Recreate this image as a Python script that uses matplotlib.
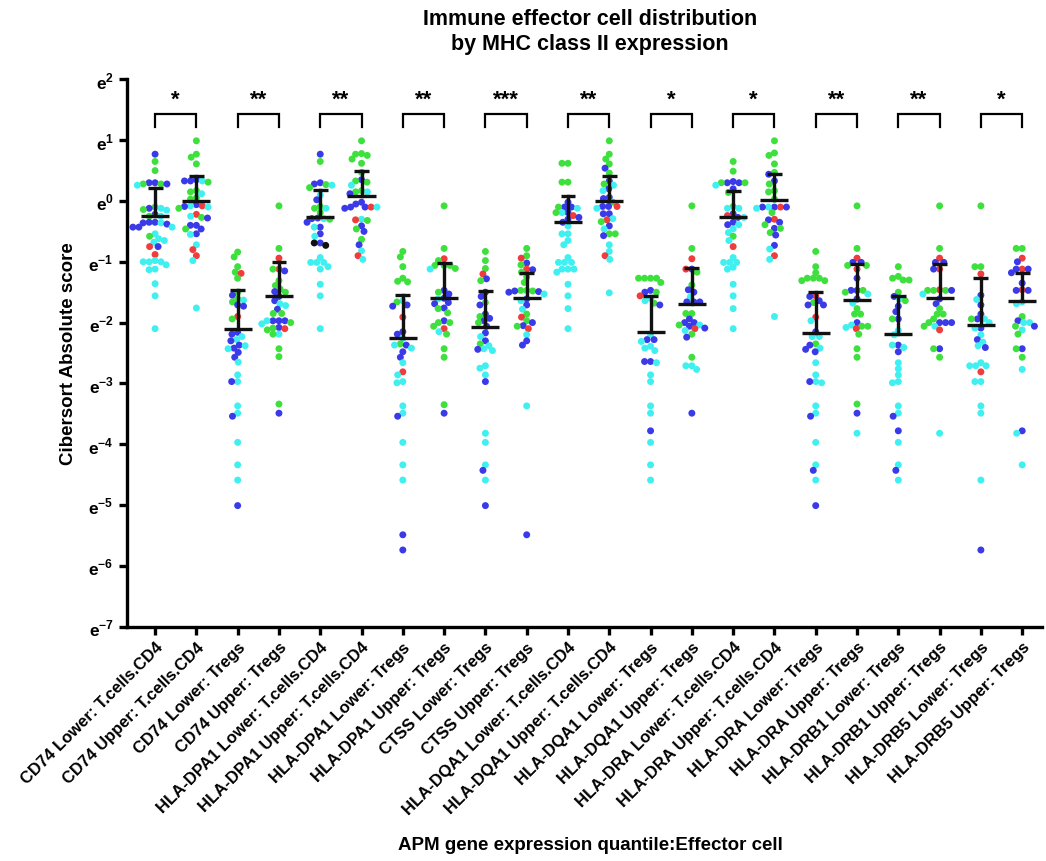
import numpy as np
import matplotlib
matplotlib.use("Agg")
import matplotlib.pyplot as plt

plt.rcParams["font.family"] = ["Liberation Sans", "DejaVu Sans"]
plt.rcParams["mathtext.fontset"] = "custom"
plt.rcParams["mathtext.rm"] = "Liberation Sans"
plt.rcParams["mathtext.bf"] = "Liberation Sans:bold"

# group labels, in plotting order
groups = [
    "CD74 Lower: T.cells.CD4", "CD74 Upper: T.cells.CD4",
    "CD74 Lower: Tregs", "CD74 Upper: Tregs",
    "HLA-DPA1 Lower: T.cells.CD4", "HLA-DPA1 Upper: T.cells.CD4",
    "HLA-DPA1 Lower: Tregs", "HLA-DPA1 Upper: Tregs",
    "CTSS Lower: Tregs", "CTSS Upper: Tregs",
    "HLA-DQA1 Lower: T.cells.CD4", "HLA-DQA1 Upper: T.cells.CD4",
    "HLA-DQA1 Lower: Tregs", "HLA-DQA1 Upper: Tregs",
    "HLA-DRA Lower: T.cells.CD4", "HLA-DRA Upper: T.cells.CD4",
    "HLA-DRA Lower: Tregs", "HLA-DRA Upper: Tregs",
    "HLA-DRB1 Lower: Tregs", "HLA-DRB1 Upper: Tregs",
    "HLA-DRB5 Lower: Tregs", "HLA-DRB5 Upper: Tregs",
]

# ln(score) per sample; letters give the cohort colour of each sample
cd74_lo_cd4 = [0.77, 0.65, 0.50, 0.30, 0.30, 0.28, 0.28, 0.28, 0.26, -0.10, -0.12, -0.12, -0.14, -0.15,
               -0.22, -0.25, -0.25, -0.35, -0.35, -0.36, -0.36, -0.38, -0.43, -0.43, -0.43, -0.54, -0.58,
               -0.62, -0.65, -0.68, -0.75, -0.75, -0.88, -0.98, -1.00, -1.00, -1.00, -1.05, -1.12, -1.13,
               -1.36, -1.56, -2.10]
cd74_lo_cd4_c = "bgg bbggbc gbcgc bgc bbcbb bcb cgccc br r cccc c cc ccc"

cd74_up_cd4 = [0.99, 0.77, 0.72, 0.61, 0.35, 0.33, 0.33, 0.31, 0.33, 0.17, 0.15, 0.12, 0.05, 0.03,
               -0.06, -0.08, -0.08, -0.09, -0.10, -0.12, -0.22, -0.25, -0.27, -0.28, -0.40, -0.40,
               -0.46, -0.46, -0.54, -0.55, -0.72, -0.80, -0.90, -0.98, -1.76]
cd74_up_cd4_c = "gggg bbcgb ggc gg bcrbcg rcgb bb bg bc c r r c c"

cd74_lo_treg = [-0.84, -0.92, -1.08, -1.17, -1.19, -1.27, -1.50, -1.55, -1.61, -1.63, -1.66, -1.71, -1.73,
                -1.90, -1.94, -2.16, -2.19, -2.23, -2.28, -2.30, -2.37, -2.38, -2.42, -2.43, -2.49, -2.57,
                -2.65, -2.86, -2.97, -2.97, -3.37, -3.49, -3.54, -3.97, -4.34, -4.59, -5.01]
cd74_lo_treg_c = "ggggrg gbgcgbb rg bbccbbcbcbbc ccb ccb cccb"

cd74_up_treg = [-0.08, -0.78, -0.94, -1.12, -1.12, -1.15, -1.31, -1.39, -1.45, -1.49, -1.50, -1.57,
                -1.64, -1.69, -1.72, -1.78, -1.85, -1.85, -1.97, -1.97, -1.97, -1.97, -2.00, -2.02, -2.08,
                -2.09, -2.10, -2.12, -2.19, -2.19, -2.43, -2.56, -3.34, -3.49]
cd74_up_treg_c = "gg rrgb gggbgb bccbgg bbbcgcbgrgcg gg gb"

dpa1_lo_cd4 = [0.77, 0.65, 0.30, 0.28, 0.27, 0.26, 0.22, 0.10, 0.02, -0.09, -0.12, -0.12, -0.19,
               -0.28, -0.29, -0.29, -0.30, -0.35, -0.43, -0.43, -0.54, -0.58, -0.69, -0.69, -0.73,
               -0.93, -1.01, -1.01, -1.01, -1.08, -1.12, -1.37, -1.56, -2.10]
dpa1_lo_cd4_c = "bg bbgcg cb ggcg bcbgb bcbc bkk cccccc ccc"

dpa1_up_cd4 = [0.99, 0.78, 0.77, 0.75, 0.69, 0.62, 0.47, 0.35, 0.33, 0.31, 0.26, 0.17, 0.15, 0.15, 0.12,
               -0.02, -0.05, -0.10, -0.10, -0.10, -0.10, -0.12, -0.30, -0.31, -0.32, -0.41, -0.46, -0.50,
               -0.63, -0.72, -0.82, -0.90, -0.96]
dpa1_up_cd4_c = "ggggggg bggc ggcb bbbrbcb crgbgb gbcrc"

dpa1_lo_treg = [-0.83, -0.92, -1.08, -1.27, -1.32, -1.33, -1.64, -1.66, -1.71, -1.73, -1.91, -2.15, -2.19,
                -2.26, -2.35, -2.37, -2.37, -2.42, -2.48, -2.57, -2.66, -2.81, -2.86, -2.97, -2.99, -3.37,
                -3.49, -3.54, -3.97, -4.34, -4.59, -5.49, -5.74]
dpa1_lo_treg_c = "gggggg cgbbr bbcgbccbbc rccc ccb ccc bb"

dpa1_up_treg = [-0.08, -0.78, -0.95, -0.98, -1.06, -1.06, -1.06, -1.11, -1.12, -1.47, -1.50, -1.53, -1.60,
                -1.61, -1.67, -1.69, -1.76, -1.77, -1.84, -1.97, -2.00, -2.00, -2.06, -2.10, -2.15, -2.19,
                -2.43, -2.57, -3.35, -3.49]
dpa1_up_treg_c = "gg rgggggc bgbbcbbbgg bgggrcg gg gb"

ctss_lo_treg = [-0.83, -0.98, -1.11, -1.20, -1.28, -1.31, -1.50, -1.57, -1.67, -1.71, -1.86, -1.90, -1.93,
                -1.97, -2.00, -2.06, -2.17, -2.23, -2.30, -2.35, -2.38, -2.43, -2.44, -2.46, -2.71, -2.75,
                -2.86, -2.97, -3.82, -3.97, -4.34, -4.43, -4.59, -5.01]
ctss_lo_treg_c = "gggrbg bbgb bgbbgb bcbgccbc cccb cccbcb"

ctss_up_treg = [-0.78, -0.90, -0.94, -1.02, -1.05, -1.12, -1.13, -1.17, -1.25, -1.34, -1.47, -1.47, -1.48,
                -1.48, -1.49, -1.50, -1.53, -1.61, -1.64, -1.71, -1.78, -1.86, -1.91, -1.97, -2.00, -2.05,
                -2.06, -2.10, -2.20, -2.30, -2.37, -3.37, -5.49]
ctss_up_treg_c = "ggrbg rbggg gggbbbc bcbc grgbbgr cbb cb"

dqa1_lo_cd4 = [0.62, 0.62, 0.31, 0.31, -0.02, -0.10, -0.10, -0.10, -0.12, -0.19, -0.19, -0.19, -0.24,
               -0.27, -0.30, -0.35, -0.41, -0.54, -0.54, -0.65, -0.72, -0.93, -1.01, -1.01, -1.01, -1.12,
               -1.12, -1.12, -1.17, -1.37, -1.56, -1.77, -2.10]
dqa1_lo_cd4_c = "gggg bbbgc bcgrbbb ccccc cccccccc cccc"

dqa1_up_cd4 = [0.99, 0.77, 0.69, 0.61, 0.54, 0.46, 0.33, 0.28, 0.26, 0.20, 0.17, 0.06, 0.04, -0.02,
               -0.09, -0.09, -0.09, -0.12, -0.21, -0.21, -0.29, -0.31, -0.34, -0.41, -0.46, -0.54, -0.54,
               -0.57, -0.72, -0.83, -0.90, -0.96, -1.51]
dqa1_up_cd4_c = "ggggbg bgcbc bbg bbrc bbcrg bcggb ccrcc"

dqa1_lo_treg = [-1.27, -1.27, -1.27, -1.27, -1.34, -1.47, -1.50, -1.50, -1.56, -1.60, -1.64, -1.68, -1.71,
                -2.20, -2.28, -2.28, -2.31, -2.39, -2.42, -2.46, -2.64, -2.64, -2.66, -2.86, -2.97, -3.37,
                -3.49, -3.78, -3.97, -4.34, -4.59]
dqa1_lo_treg_c = "ggggg bbgrccgb cbbcccc bbccc ccbccc"

dqa1_up_treg = [-0.08, -0.78, -0.95, -1.12, -1.12, -1.17, -1.38, -1.46, -1.50, -1.58, -1.66, -1.66, -1.66,
                -1.85, -1.85, -1.94, -2.00, -2.00, -2.04, -2.04, -2.06, -2.09, -2.10, -2.13, -2.19, -2.24,
                -2.57, -2.71, -2.71, -2.77, -3.49]
dqa1_up_treg_c = "ggr brgg bbcbbb ggbbb cgbbrcgb gcccb"

dra_lo_cd4 = [0.65, 0.49, 0.32, 0.30, 0.30, 0.30, 0.30, 0.26, 0.20, 0.14, -0.09, -0.12, -0.12, -0.21,
              -0.24, -0.27, -0.27, -0.35, -0.39, -0.39, -0.46, -0.52, -0.58, -0.65, -0.75, -0.93, -1.01,
              -1.01, -1.01, -1.09, -1.12, -1.37, -1.56, -1.77, -2.10]
dra_lo_cd4_c = "gg bbbggcbg gccbrbc bbcccgcr cccccc cccc"

dra_up_cd4 = [0.99, 0.79, 0.75, 0.61, 0.47, 0.44, 0.33, 0.28, 0.17, 0.15, 0.03, -0.10, -0.10, -0.10,
              -0.10, -0.10, -0.12, -0.19, -0.30, -0.31, -0.35, -0.39, -0.45, -0.45, -0.52, -0.56, -0.73,
              -0.79, -0.90, -0.96, -1.90]
dra_up_cd4_c = "ggggg bbgggg bcrbbcg rbbgbggb bcrcc"

dra_lo_treg = [-0.83, -1.08, -1.18, -1.27, -1.27, -1.27, -1.31, -1.31, -1.56, -1.57, -1.64, -1.67, -1.71,
               -1.71, -1.91, -1.97, -2.15, -2.23, -2.23, -2.35, -2.37, -2.42, -2.44, -2.48, -2.66, -2.86,
               -2.97, -2.97, -2.99, -3.37, -3.49, -3.54, -3.97, -4.34, -4.43, -4.59, -5.01]
dra_lo_treg_c = "gggggggg rbbgbb rc bccgbcbb cccbc ccb ccbcb"

dra_up_treg = [-0.08, -0.78, -0.94, -1.01, -1.01, -1.06, -1.06, -1.12, -1.27, -1.47, -1.47, -1.47, -1.50,
               -1.53, -1.61, -1.68, -1.77, -1.86, -1.86, -2.00, -2.04, -2.06, -2.06, -2.08, -2.10, -2.19,
               -2.43, -2.57, -3.34, -3.49, -3.82]
dra_up_treg_c = "gg rbbggrb bbggcbc ggg bcggcrg gggbc"

drb1_lo_treg = [-1.08, -1.24, -1.27, -1.30, -1.30, -1.50, -1.57, -1.61, -1.64, -1.73, -1.82, -1.94, -1.94,
                -2.13, -2.20, -2.37, -2.37, -2.41, -2.48, -2.66, -2.76, -2.86, -2.97, -2.99, -3.37, -3.49,
                -3.54, -3.78, -3.97, -4.34, -4.43, -4.59]
drb1_lo_treg_c = "ggggg gbcgbbbg ccbccb ccccc ccbb ccbc"

drb1_up_treg = [-0.08, -0.78, -0.94, -1.01, -1.01, -1.12, -1.12, -1.46, -1.47, -1.47, -1.47, -1.47, -1.53,
                -1.61, -1.69, -1.77, -1.86, -1.86, -1.94, -2.00, -2.00, -2.00, -2.00, -2.06, -2.06, -2.12,
                -2.43, -2.43, -2.57, -3.82]
drb1_up_treg_c = "gg rbbrb rgggbc bbgggg bbgbcgr bggc"

drb5_lo_treg = [-0.08, -1.08, -1.08, -1.20, -1.55, -1.62, -1.71, -1.86, -1.94, -1.94, -1.94, -2.00, -2.09,
                -2.09, -2.20, -2.28, -2.32, -2.38, -2.41, -2.66, -2.71, -2.71, -2.71, -2.81, -2.97, -2.97,
                -3.37, -3.49, -4.59, -5.74]
drb5_lo_treg_c = "gggr bcbb bcgcbc cbccb ccccrcc cccb"

drb5_up_treg = [-0.78, -0.78, -0.94, -1.00, -1.12, -1.12, -1.12, -1.18, -1.35, -1.46, -1.47, -1.47, -1.66,
                -1.69, -1.90, -1.97, -2.00, -2.00, -2.06, -2.06, -2.12, -2.19, -2.43, -2.43, -2.57, -2.77,
                -3.78, -3.82, -4.34]
drb5_up_treg_c = "ggrb rbbbb rbbcc gbccgbcg bggc bcc"

# centre line and upper whisker of each group, ln units
centre = [-0.25, 0.00, -2.11, -1.57, -0.27, 0.09, -2.26, -1.60, -2.07, -1.59, -0.34,
          0.00, -2.15, -1.70, -0.26, 0.02, -2.17, -1.63, -2.18, -1.60, -2.04, -1.64]
upper = [0.21, 0.41, -1.46, -1.01, 0.18, 0.49, -1.55, -1.02, -1.48, -1.18, 0.09,
         0.41, -1.57, -1.11, 0.16, 0.44, -1.50, -1.04, -1.57, -1.03, -1.26, -1.18]

stars = ["*", "**", "**", "**", "***", "**", "*", "*", "**", "**", "*"]

series = [
    (cd74_lo_cd4, cd74_lo_cd4_c), (cd74_up_cd4, cd74_up_cd4_c),
    (cd74_lo_treg, cd74_lo_treg_c), (cd74_up_treg, cd74_up_treg_c),
    (dpa1_lo_cd4, dpa1_lo_cd4_c), (dpa1_up_cd4, dpa1_up_cd4_c),
    (dpa1_lo_treg, dpa1_lo_treg_c), (dpa1_up_treg, dpa1_up_treg_c),
    (ctss_lo_treg, ctss_lo_treg_c), (ctss_up_treg, ctss_up_treg_c),
    (dqa1_lo_cd4, dqa1_lo_cd4_c), (dqa1_up_cd4, dqa1_up_cd4_c),
    (dqa1_lo_treg, dqa1_lo_treg_c), (dqa1_up_treg, dqa1_up_treg_c),
    (dra_lo_cd4, dra_lo_cd4_c), (dra_up_cd4, dra_up_cd4_c),
    (dra_lo_treg, dra_lo_treg_c), (dra_up_treg, dra_up_treg_c),
    (drb1_lo_treg, drb1_lo_treg_c), (drb1_up_treg, drb1_up_treg_c),
    (drb5_lo_treg, drb5_lo_treg_c), (drb5_up_treg, drb5_up_treg_c),
]

palette = {"g": "#3ee03e", "b": "#3a3ae8", "c": "#40f0f0", "r": "#f03c3c", "k": "#111111"}


def swarm(y_px, d):
    # simple beeswarm: place each point as close to the centre as it can go
    order = np.argsort(-y_px)
    xs = np.zeros(len(y_px))
    placed = []
    for i in order:
        y = y_px[i]
        near = [(xs[j], y - y_px[j]) for j in placed if abs(y - y_px[j]) < d]
        cands = [0.0]
        for xj, dy in near:
            w = np.sqrt(d * d - dy * dy)
            cands += [xj - w, xj + w]
        cands.sort(key=lambda c: (abs(c), c))
        for c in cands:
            if all((c - xj) ** 2 + dy ** 2 >= d * d - 1e-6 for xj, dy in near):
                xs[i] = c
                break
        placed.append(i)
    return xs


W, H = 1046, 862
fig = plt.figure(figsize=(W / 100, H / 100), dpi=100)
ax_l, ax_r, ax_t, ax_b = 127, 1042, 80.4, 627.6
ax = fig.add_axes([ax_l / W, 1 - ax_b / H, (ax_r - ax_l) / W, (ax_b - ax_t) / H])
ax.set_yscale("log", base=np.e)
xmin, xmax = -0.68, 21.48
ax.set_xlim(xmin, xmax)
ax.set_ylim(np.exp(-7), np.exp(2))

px_x = (ax_r - ax_l) / (xmax - xmin)
px_y = (ax_b - ax_t) / 9.0
dot = 6.0

for i, (vals, cols) in enumerate(series):
    cols = cols.replace(" ", "")
    assert len(cols) == len(vals), groups[i]
    v = np.array(vals)
    off = swarm(v * px_y, dot) / px_x
    ax.scatter(i + off, np.exp(v), s=25, c=[palette[c] for c in cols],
               linewidths=0, zorder=2)

# centre line with upper whisker
for i, (c, u) in enumerate(zip(centre, upper)):
    ax.plot([i - 0.34, i + 0.34], [np.exp(c)] * 2, color="#111111", lw=2.4, zorder=3,
            solid_capstyle="butt")
    ax.plot([i, i], [np.exp(c), np.exp(u)], color="#111111", lw=2.4, zorder=3)
    ax.plot([i - 0.18, i + 0.18], [np.exp(u)] * 2, color="#111111", lw=2.4, zorder=3,
            solid_capstyle="butt")

# significance brackets between Lower/Upper pairs
for k, s in enumerate(stars):
    a, b = 2 * k, 2 * k + 1
    ax.plot([a, a, b, b], np.exp([1.22, 1.43, 1.43, 1.22]), color="black", lw=1.6,
            solid_joinstyle="miter")
    ax.text((a + b) / 2, np.exp(1.68), s, ha="center", va="center", fontsize=16,
            fontweight="bold")

for side in ["top", "right"]:
    ax.spines[side].set_visible(False)
for side in ["left", "bottom"]:
    ax.spines[side].set_linewidth(2.4)

ax.set_xticks(range(len(groups)))
ax.set_xticklabels(groups, rotation=45, ha="right", rotation_mode="anchor",
                   fontsize=12, fontweight="bold")
yt = list(range(-7, 3))
ax.set_yticks([np.exp(t) for t in yt])
ax.set_yticklabels([r"$\mathbf{e}^{\mathbf{%d}}$" % t for t in yt], fontsize=12.5)
ax.yaxis.set_minor_locator(matplotlib.ticker.NullLocator())
ax.tick_params(axis="both", length=6, width=2.4, direction="out")
ax.tick_params(axis="x", pad=3)

ax.set_ylabel("Cibersort Absolute score", fontsize=13.5, fontweight="bold", labelpad=8)
fig.text(590 / W, 1 - 846 / H, "APM gene expression quantile:Effector cell",
         ha="center", va="center", fontsize=13.5, fontweight="bold")
fig.text(590 / W, 1 - 32 / H, "Immune effector cell distribution\nby MHC class II expression",
         ha="center", va="center", fontsize=15.5, fontweight="bold", linespacing=1.25)

fig.savefig("out.png", dpi=100)
